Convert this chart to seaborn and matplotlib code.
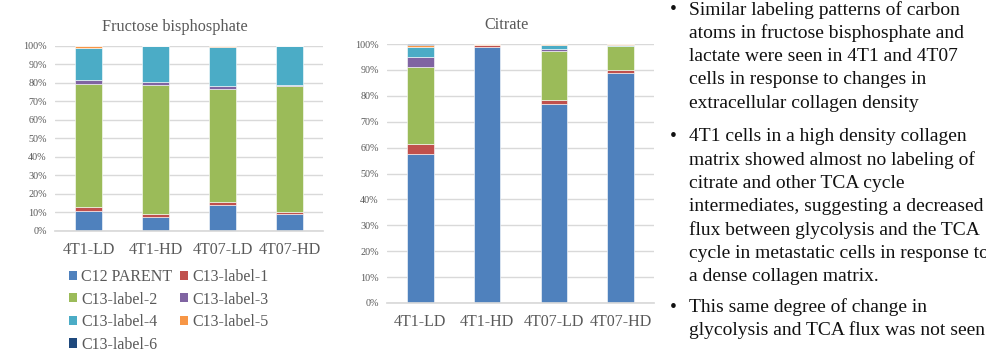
import matplotlib
matplotlib.use("Agg")
import matplotlib.pyplot as plt
from matplotlib.patches import Patch
import numpy as np
import seaborn as sns

sns.set_theme(style="white")
plt.rcParams['font.family'] = ['Liberation Serif', 'DejaVu Serif']

categories = ["4T1-LD", "4T1-HD", "4T07-LD", "4T07-HD"]
series_names = ["C12 PARENT", "C13-label-1", "C13-label-2", "C13-label-3",
                "C13-label-4", "C13-label-5", "C13-label-6"]
colors = ["#4F81BD", "#C0504D", "#9BBB59", "#8064A2", "#4BACC6", "#F79646", "#1F497D"]

# Fructose bisphosphate (% of total)
fbp_c12 = [10.8, 7.5, 14.0, 9.2]
fbp_l1 = [1.9, 1.5, 1.4, 0.9]
fbp_l2 = [66.7, 69.8, 61.3, 68.2]
fbp_l3 = [1.9, 1.6, 1.8, 0.5]
fbp_l4 = [17.6, 19.6, 21.0, 21.2]
fbp_l5 = [0.7, 0.0, 0.3, 0.0]
fbp_l6 = [0.4, 0.0, 0.2, 0.0]

# Citrate (% of total)
cit_c12 = [57.5, 98.7, 76.8, 88.9]
cit_l1 = [4.0, 0.8, 1.4, 0.9]
cit_l2 = [29.5, 0.0, 19.0, 9.3]
cit_l3 = [3.9, 0.3, 1.0, 0.2]
cit_l4 = [4.1, 0.0, 1.5, 0.5]
cit_l5 = [0.6, 0.1, 0.2, 0.1]
cit_l6 = [0.4, 0.1, 0.1, 0.1]

fbp_series = [fbp_c12, fbp_l1, fbp_l2, fbp_l3, fbp_l4, fbp_l5, fbp_l6]
cit_series = [cit_c12, cit_l1, cit_l2, cit_l3, cit_l4, cit_l5, cit_l6]

ytick_vals = list(range(0, 101, 10))

bullets = [
    ["Similar labeling patterns of carbon",
     "atoms in fructose bisphosphate and",
     "lactate were seen in 4T1 and 4T07",
     "cells in response to changes in",
     "extracellular collagen density"],
    ["4T1 cells in a high density collagen",
     "matrix showed almost no labeling of",
     "citrate and other TCA cycle",
     "intermediates, suggesting a decreased",
     "flux between glycolysis and the TCA",
     "cycle in metastatic cells in response to",
     "a dense collagen matrix."],
    ["This same degree of change in",
     "glycolysis and TCA flux was not seen"],
]

W, H = 986, 354
fig = plt.figure(figsize=(W / 100, H / 100), dpi=100)
gray = "#595959"
grid = "#D9D9D9"


def px_axes(x0, y0, x1, y1):
    return fig.add_axes([x0 / W, 1 - y1 / H, (x1 - x0) / W, (y1 - y0) / H])


def stacked(ax, series, title, ytick_size):
    bottom = np.zeros(len(categories))
    for vals, c in zip(series, colors):
        sns.barplot(x=categories, y=vals, bottom=bottom, color=c, width=0.4,
                    ax=ax, edgecolor="white", linewidth=0.4, saturation=1)
        bottom = bottom + np.array(vals)
    ax.set_ylim(0, 100)
    ax.set_xlim(-0.5, 3.5)
    ax.set_yticks(ytick_vals)
    ax.set_yticklabels([f"{v}%" for v in ytick_vals], fontsize=ytick_size, color=gray)
    ax.tick_params(axis="x", labelsize=11.5, colors=gray, length=0, pad=8)
    ax.tick_params(axis="y", length=0, pad=6)
    ax.yaxis.grid(True, color=grid, linewidth=1)
    ax.set_axisbelow(True)
    for s in ["top", "right", "left"]:
        ax.spines[s].set_visible(False)
    ax.spines["bottom"].set_color(grid)
    ax.set_xlabel("")
    ax.set_ylabel("")
    ax.set_title(title, fontsize=11.7, color=gray, pad=10.5, x=0.448)


ax1 = px_axes(55, 45.7, 323, 231)
stacked(ax1, fbp_series, "Fructose bisphosphate", 7.3)

ax2 = px_axes(387, 44, 654, 303)
stacked(ax2, cit_series, "Citrate", 7.3)

# legend (reordered so that it reads row by row in two columns)
handles = [Patch(facecolor=c, edgecolor="none") for c in colors]
order = [0, 2, 4, 6, 1, 3, 5]
leg = fig.legend([handles[i] for i in order], [series_names[i] for i in order],
                 ncol=2, loc="upper left", bbox_to_anchor=(69 / W, 1 - 269 / H),
                 frameon=False, fontsize=11.5, handlelength=0.5, handleheight=0.5,
                 handletextpad=0.25, columnspacing=0.5, labelspacing=0.41,
                 borderpad=0, borderaxespad=0, labelcolor=gray)

# bullet text
starts = [10, 137, 307]
step = 23.3
for para, y0 in zip(bullets, starts):
    fig.text(673 / W, 1 - y0 / H, "\u2022", fontsize=14, color="#111111",
             ha="center", va="center")
    for i, line in enumerate(para):
        fig.text(689 / W, 1 - (y0 + i * step) / H, line, fontsize=14,
                 color="#111111", ha="left", va="center")

fig.savefig("out.png", dpi=100)
